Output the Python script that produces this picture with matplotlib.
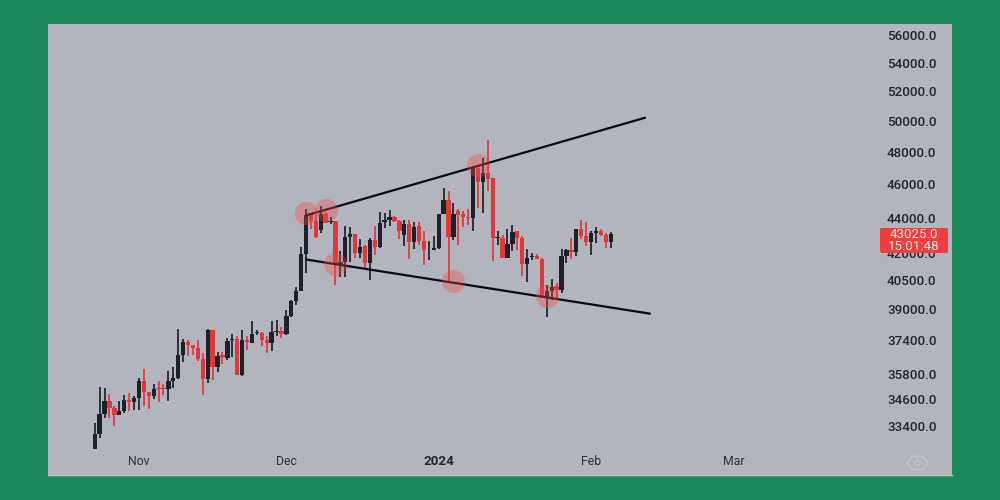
import matplotlib
matplotlib.use("Agg")
import matplotlib.pyplot as plt
import matplotlib.dates as mdates
import pandas as pd
from matplotlib.patches import FancyBboxPatch, Polygon, Circle
from matplotlib.transforms import IdentityTransform

first_day = "2023-10-23"
opens = [32400,33050,33940,34520,34190,33910,34090,34570,34490,34680,35430,34950,34760,35140,35140,35060,35430,35590,36690,37350,
         37160,37050,36480,35540,37900,36120,36680,36560,37400,37450,35750,37400,37290,37750,37785,37415,37255,37815,37865,37735,
         38650,39390,39950,41925,44120,43785,43270,44180,43750,43825,41300,41500,42890,43060,41985,42360,41410,42690,42325,43725,
         43880,44040,43785,43020,43630,42590,43490,42650,42130,42170,42270,44180,45000,42875,44370,44220,44040,43980,46980,46105,
         46670,46360,42840,42840,41715,42510,43200,42800,41360,41770,41800,41660,39570,39925,40195,39965,41840,42130,42015,43310,
         42930,42590,43125,43215,43020,42590]
highs = [33520,35190,35140,34830,34290,34520,34790,34880,34760,35590,36000,34950,35290,35430,35320,35910,36100,37985,37485,37415,
         37200,37415,36770,37950,37920,36850,36850,37500,37700,37615,37900,37615,38400,37900,37815,37615,38365,38415,38085,38950,
         39480,40160,42325,44480,44240,44120,44680,44320,44040,43825,42115,43490,43450,43060,42745,42455,42800,43530,44340,44240,
         44430,44080,43840,43840,43840,43725,43725,43215,42650,42930,44180,45765,45590,44825,44480,44370,44510,47125,47190,47605,
         48770,46360,43250,43020,43360,43590,43200,42930,42210,41985,41945,41715,40230,40590,40375,42210,42210,42840,43360,43880,
         43750,43215,43450,43360,43125,43180]
lows = [32400,32860,33750,33750,33410,33910,33980,34090,34140,34140,34320,34170,34630,34470,34800,34520,35140,35540,36370,36640,
        36680,36400,34800,35380,35510,35860,36240,36450,36610,35750,35670,36910,37290,37650,37130,36770,36880,37615,37535,37650,
        38585,39215,39950,40915,43310,42840,43125,43690,43630,40250,40700,40700,41480,41715,41715,41180,40515,41890,42270,43400,
        43490,43750,42745,42400,41625,42210,42455,41300,41590,42130,42210,44180,40465,42705,42415,43450,43590,43250,44570,44280,
        45590,41535,42455,41715,41715,42075,42170,40730,40410,41590,41625,39570,38565,39480,39570,39840,41445,41625,41840,42745,
        42360,41890,42550,42960,42270,42270]
closes = [33050,33940,34520,34190,33910,34090,34570,34490,34680,35430,34950,34760,35090,35090,35060,35430,35590,36690,37320,37160,
          37050,36480,35540,37900,36120,36640,36610,37365,37450,35750,37400,37335,37700,37815,37415,37255,37815,37885,37735,38650,
          39390,39925,41925,44120,43785,42875,44180,43690,43825,41360,41480,42875,43060,41985,42300,41410,42690,42325,43690,43880,
          44020,43785,43215,43630,42590,43450,42650,42130,42170,42270,44180,45000,42875,44220,44120,44040,43980,47020,46105,46670,
          46310,42820,42890,41715,42510,43160,42800,41360,41715,41840,41660,39570,39925,40140,39965,41800,42130,42015,43310,42930,
          42590,43080,43215,43020,42590,43025]

price_ticks = [56000,54000,52000,50000,48000,46000,44000,42000,40500,39000,37400,35800,34600,33400]
month_dates = ["2023-11-01","2023-12-01","2024-01-01","2024-02-01","2024-03-01"]
month_labels = ["Nov","Dec","2024","Feb","Mar"]

upper_dates = ["2023-12-05","2024-02-12"]
upper_prices = [44120,50200]
lower_dates = ["2023-12-05","2024-02-13"]
lower_prices = [41625,38750]

touch_dates = ["2023-12-05","2023-12-09","2023-12-11","2024-01-04","2024-01-09","2024-01-23"]
touch_prices = [44240,44410,41360,40450,47190,39660]

last_price = "43025.0"
countdown = "15:01:48"

GREEN = "#1d895a"; PANEL = "#b2b5be"; DARK = "#1c212c"; RED = "#e0383a"
FONT = ["Roboto", "DejaVu Sans"]

dates = pd.date_range(first_day, periods=len(opens), freq="D")
x = mdates.date2num(dates)
x0 = x[0]

fig = plt.figure(figsize=(10, 5), dpi=100, facecolor=GREEN)
ax = fig.add_axes([48/1000, 1-475/500, 904/1000, 451/500], facecolor=PANEL)
ax.set_yscale("log")
ax.set_xlim(x0 - (94.7-48)/4.914, x0 + (952-94.7)/4.914)
ax.set_ylim(31310, 56820)

for xi, o, h, l, c in zip(x, opens, highs, lows, closes):
    col = DARK if c >= o else RED
    ax.vlines(xi, l, h, color=col, lw=1.25, zorder=3)
    ax.bar(xi, max(abs(c-o), 45), bottom=min(o, c), width=0.88, color=col, lw=0, zorder=4)

ax.plot(mdates.date2num(pd.to_datetime(upper_dates)), upper_prices, color="#0a0a0c", lw=1.6, zorder=5, solid_capstyle="round")
ax.plot(mdates.date2num(pd.to_datetime(lower_dates)), lower_prices, color="#0a0a0c", lw=1.6, zorder=5, solid_capstyle="round")
ax.scatter(mdates.date2num(pd.to_datetime(touch_dates)), touch_prices, s=280, color="#f04a4a", alpha=0.36, lw=0, zorder=6)

ax.yaxis.tick_right()
ax.set_yticks(price_ticks, [f"{p:.1f}" for p in price_ticks])
ax.minorticks_off()
ax.tick_params(axis="y", which="both", length=0, pad=-46.8, labelcolor="#23262f", labelsize=9.6)
for t in ax.get_yticklabels():
    t.set_fontfamily(FONT)
    t.set_fontweight("medium")
ax.set_xticks(mdates.date2num(pd.to_datetime(month_dates)), month_labels)
ax.tick_params(axis="x", length=0, pad=-14.2, labelcolor="#2e323d", labelsize=8.8)
for t, lab in zip(ax.get_xticklabels(), month_labels):
    t.set_fontfamily(FONT)
    if lab == "2024":
        t.set_fontweight("bold")
        t.set_color("#23262f")
        t.set_fontsize(9.6)

for s in ["top", "left", "right"]:
    ax.spines[s].set_visible(False)
ax.spines["bottom"].set_color("#bfc1c9")
ax.spines["bottom"].set_linewidth(1.0)

H = 500
px = IdentityTransform()
box = FancyBboxPatch((880, H-253), 68, 25, boxstyle="round,pad=0,rounding_size=2", fc="#f03d3d", ec="none", transform=px, zorder=20)
fig.add_artist(box)
fig.text(914/1000, 1-234.5/500, last_price, color="#f7e0e0", fontsize=9.6, ha="center", va="center", family=FONT, zorder=21)
fig.text(914/1000, 1-246.5/500, countdown, color="#f7e0e0", fontsize=9.6, ha="center", va="center", family=FONT, zorder=21)

hexagon = [(907, H-463), (912, H-456.5), (923, H-456.5), (928, H-463), (923, H-469.5), (912, H-469.5)]
fig.add_artist(Polygon(hexagon, closed=True, fc="none", ec="#c3c5cd", lw=1.2, transform=px, zorder=20))
fig.add_artist(Circle((917.5, H-463), 2.6, fc="none", ec="#c3c5cd", lw=1.1, transform=px, zorder=20))

fig.savefig("out.png", dpi=100, facecolor=GREEN)
